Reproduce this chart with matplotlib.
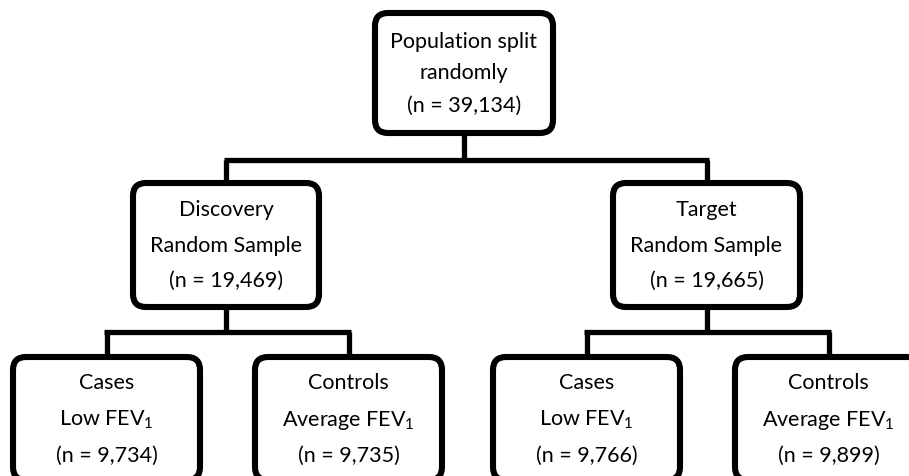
import matplotlib
matplotlib.use("Agg")
import matplotlib.pyplot as plt
from matplotlib.patches import FancyBboxPatch

plt.rcParams['font.family'] = ['Lato', 'DejaVu Sans']
plt.rcParams['mathtext.fontset'] = 'custom'
plt.rcParams['mathtext.rm'] = 'Lato'
plt.rcParams['mathtext.it'] = 'Lato'

# Data
node_titles = ["Population split", "Discovery", "Target",
               "Cases", "Controls", "Cases", "Controls"]
node_subtitles = ["randomly", "Random Sample", "Random Sample",
                  "Low FEV$_1$", "Average FEV$_1$", "Low FEV$_1$", "Average FEV$_1$"]
node_counts = [39134, 19469, 19665, 9734, 9735, 9766, 9899]
parents = [None, 0, 0, 1, 1, 2, 2]
levels = [0, 1, 1, 2, 2, 2, 2]

# Layout (pixels)
W, H = 909, 476
boxes = [  # (x0, y0, x1, y1)
    (375, 13, 553, 133),
    (133, 183, 319, 307),
    (613, 183, 800, 307),
    (13, 357, 200, 480),
    (255, 357, 442, 480),
    (493, 357, 680, 480),
    (735, 357, 922, 480),
]
bus_y = {0: 160, 1: 332, 2: 332}
line_offsets = {0: [29, 60, 93], 1: [27, 63, 98], 2: [26, 63, 99]}

fig = plt.figure(figsize=(W / 100, H / 100), dpi=100)
ax = fig.add_axes([0, 0, 1, 1])
ax.set_xlim(0, W)
ax.set_ylim(H, 0)
ax.axis('off')

lw = 3.8
r = 13

def cx(b):
    return (b[0] + b[2]) / 2

# connectors
for p in set(x for x in parents if x is not None):
    kids = [i for i, q in enumerate(parents) if q == p]
    pb = boxes[p]
    yb = bus_y[p]
    ax.plot([cx(pb), cx(pb)], [pb[3], yb], color='black', lw=lw, solid_capstyle='butt', zorder=1)
    xs = [cx(boxes[k]) for k in kids]
    ax.plot([min(xs) - 2.5, max(xs) + 2.5], [yb, yb], color='black', lw=lw, solid_capstyle='butt', zorder=1)
    for k in kids:
        kb = boxes[k]
        ax.plot([cx(kb), cx(kb)], [yb, kb[1]], color='black', lw=lw, solid_capstyle='butt', zorder=1)

for i, b in enumerate(boxes):
    x0, y0, x1, y1 = b
    patch = FancyBboxPatch((x0 + r, y0 + r), (x1 - x0) - 2 * r, (y1 - y0) - 2 * r,
                           boxstyle=f"round,pad={r},rounding_size={r}",
                           facecolor='white', edgecolor='black', linewidth=4.4, zorder=2)
    ax.add_patch(patch)
    lines = [node_titles[i], node_subtitles[i], f"(n = {node_counts[i]:,})"]
    for j, t in enumerate(lines):
        ax.text(cx(b), y0 + line_offsets[levels[i]][j], t, ha='center', va='center',
                fontsize=15.5, color='black', zorder=3)

fig.savefig("out.png", dpi=100)
